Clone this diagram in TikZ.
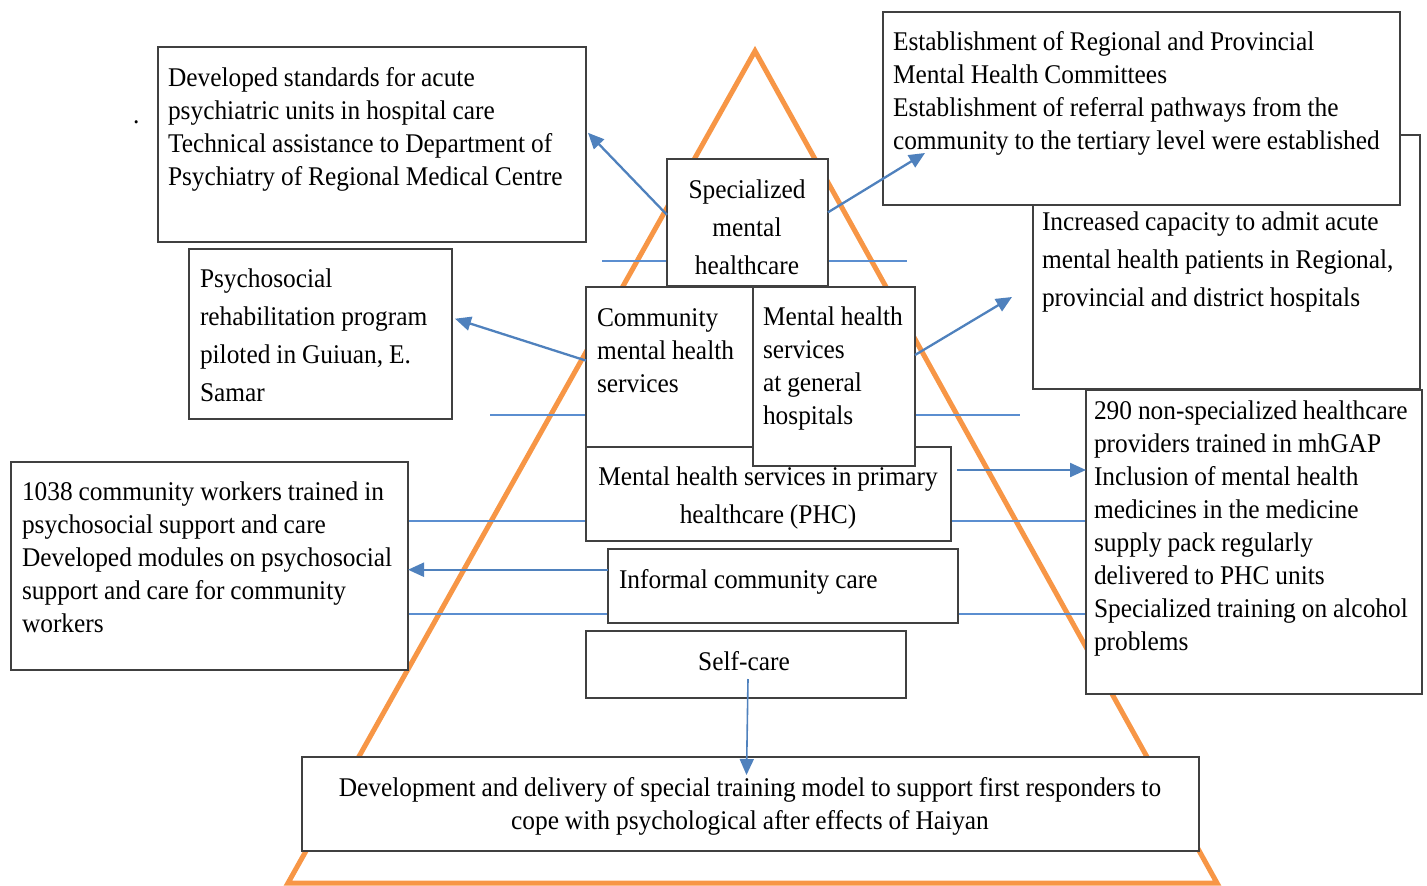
\documentclass[tikz,border=0pt]{standalone}
\usepackage{fontspec}
\setmainfont{Liberation Serif}[FakeStretch=0.94]
\usetikzlibrary{arrows.meta,calc}
\definecolor{tri}{HTML}{F79646}
\definecolor{arr}{HTML}{4F81BD}
\definecolor{lvl}{HTML}{5B8ED0}
\definecolor{bd}{HTML}{404040}
\newcommand\bx[5]{\node[box,minimum width=#4pt-#2pt,minimum height=#5pt-#3pt] (#1) at ({(#2+#4)/2},{(#3+#5)/2}) {};}
\begin{document}
\begin{tikzpicture}[x=1pt,y=-1pt,
  box/.style={draw=bd,line width=1.3pt,fill=white,inner sep=0pt,outer sep=0pt},
  tight/.style={execute at begin node={\spaceskip=0.22em\relax\xspaceskip=0.3em\relax}},
  txt/.style={inner sep=0pt,outer sep=0pt,text width=520pt,align=left,anchor=base west,tight,font=\fontsize{27}{33}\selectfont},
  wide/.style={font=\fontsize{27}{38}\selectfont},
  ctxt/.style={inner sep=0pt,outer sep=0pt,text width=900pt,align=center,anchor=base,tight,font=\fontsize{27}{33}\selectfont},
  level/.style={draw=lvl,line width=1.3pt},
  arrow/.style={draw=arr,line width=2.3pt,-{Triangle[length=16pt,width=14pt]}},
  tri line/.style={draw=tri,line width=5pt,line join=miter}
]
\useasboundingbox (0,0) rectangle (1427,886);
% pyramid
\draw[tri line] (755,51) -- (1217,883) -- (288,883) -- cycle;
% level lines
\draw[level] (602,261) -- (907,261);
\draw[level] (490,415) -- (1020,415);
\draw[level] (408,521) -- (1086,521);
\draw[level] (408,614) -- (1086,614);
% boxes
\bx{b1}{158}{47}{586}{242}
\bx{b3}{1033}{135}{1420}{389}
\bx{b2}{883}{12}{1400}{205}
\bx{b4}{1086}{390}{1422}{694}
\bx{b5}{189}{249}{452}{419}
\bx{b6}{11}{462}{408}{670}
\bx{b7}{667}{159}{828}{286}
\bx{b10}{586}{447}{951}{541}
\bx{b8}{586}{287}{753}{447}
\bx{b9}{753}{287}{915}{466}
\bx{b11}{608}{549}{958}{623}
\bx{b12}{586}{631}{906}{698}
\bx{b13}{302}{757}{1199}{851}
% texts
\node[txt] (dot) at (133,123) {.};
\node[txt] (t1) at (168,86) {Developed standards for acute\\psychiatric units in hospital care\\Technical assistance to Department of\\Psychiatry of Regional Medical Centre};
\node[txt] (t2) at (893,50) {Establishment of Regional and Provincial\\Mental Health Committees\\Establishment of referral pathways from the\\community to the tertiary level were established};
\node[txt,wide] (t3) at (1042,230) {Increased capacity to admit acute\\mental health patients in Regional,\\provincial and district hospitals};
\node[txt] (t4) at (1094,419) {290 non-specialized healthcare\\providers trained in mhGAP\\Inclusion of mental health\\medicines in the medicine\\supply pack regularly\\delivered to PHC units\\Specialized training on alcohol\\problems};
\node[txt,wide] (t5) at (200,287) {Psychosocial\\rehabilitation program\\piloted in Guiuan, E.\\Samar};
\node[txt] (t6) at (22,500) {1038 community workers trained in\\psychosocial support and care\\Developed modules on psychosocial\\support and care for community\\workers};
\node[ctxt,wide] (t7) at (747,198) {Specialized\\mental\\healthcare};
\node[txt] (t8) at (597,326) {Community\\mental health\\services};
\node[txt] (t9) at (763,325) {Mental health\\services\\at general\\hospitals};
\node[ctxt,wide] (t10) at (768,485) {Mental health services in primary\\healthcare (PHC)};
\node[txt] (t11) at (619,588) {Informal community care};
\node[ctxt] (t12) at (744,670) {Self-care};
\node[ctxt] (t13) at (750,796) {Development and delivery of special training model to support first responders to\\cope with psychological after effects of Haiyan};
% arrow end points
\coordinate (s1) at ($(b7.north west)!0.44!(b7.south west)$);
\coordinate (e1a) at ($(b1.north east)!0.44!(b1.south east)$);
\coordinate (e1) at ($(e1a)+(2,0)$);
\coordinate (s2) at ($(b7.north east)!0.42!(b7.south east)$);
\coordinate (e2) at ($(b2.south west)+(42,-52)$);
\coordinate (s3) at ($(b8.north west)!0.46!(b8.south west)$);
\coordinate (e3a) at ($(b5.north east)!0.41!(b5.south east)$);
\coordinate (e3) at ($(e3a)+(3,0)$);
\coordinate (s4) at ($(b9.north east)!0.38!(b9.south east)$);
\coordinate (e4) at ($(b3.west)+(-21,35)$);
\coordinate (s5) at ($(b10.north east)+(6,23)$);
\coordinate (s6) at ($(b11.north west)!0.28!(b11.south west)$);
\coordinate (s7) at ($(b12.south)+(2,-19)$);
\coordinate (e7) at ($(b13.north)+(-4,18)$);
% arrows
\draw[arrow] (s1) -- (e1);
\draw[arrow] (s2) -- (e2);
\draw[arrow] (s3) -- (e3);
\draw[arrow] (s4) -- (e4);
\draw[arrow] (s5) -- (s5 -| b4.west);
\draw[arrow] (s6) -- (s6 -| b6.east);
\draw[arrow,line width=1.6pt] (s7) -- (e7);
\end{tikzpicture}
\end{document}
